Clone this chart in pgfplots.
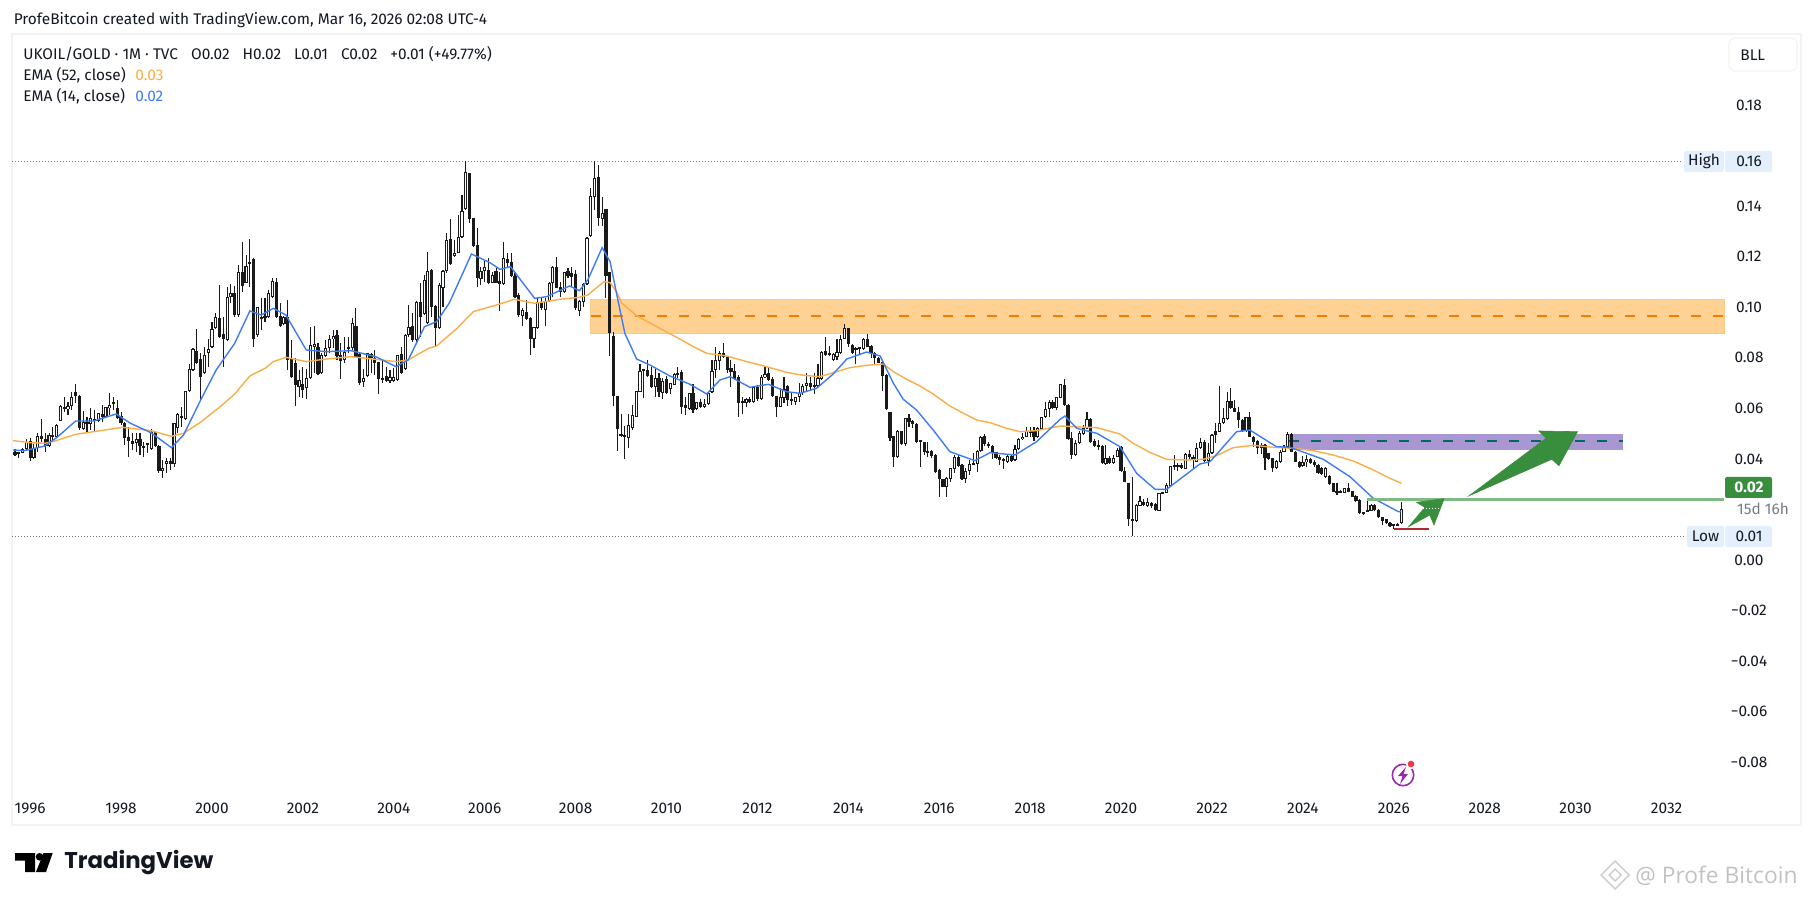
\documentclass[border=0pt]{standalone}
\usepackage{pgfplots}
\usepackage{pgfplotstable}
\usepackage{fontspec}
\pgfplotsset{compat=1.18}
\setmainfont{Fira Sans}
\newfontfamily\logofont{Poppins}
\newfontfamily\wmfont{Open Sans}
\definecolor{candle}{HTML}{1A1A1A}
\definecolor{emaO}{HTML}{FBAE45}
\definecolor{emaB}{HTML}{3F7BF5}
\definecolor{zoneO}{HTML}{FFD294}
\definecolor{zoneOe}{HTML}{F9C98A}
\definecolor{zoneP}{HTML}{A997D3}
\definecolor{dashO}{HTML}{F57C00}
\definecolor{dashT}{HTML}{00695C}
\definecolor{arrowG}{HTML}{388E3C}
\definecolor{lineG}{HTML}{81B985}
\definecolor{lineR}{HTML}{B22833}
\definecolor{dotG}{HTML}{787B86}
\definecolor{badge}{HTML}{E3EFFD}
\definecolor{frame}{HTML}{F3F3F3}
\definecolor{txt}{HTML}{131722}
\definecolor{iconP}{HTML}{9C27B0}
\definecolor{iconR}{HTML}{F23645}
\pgfplotstableread{
k o h l c
0 .0427 .0438 .0412 .0417
1 .0425 .0429 .0402 .0419
2 .0425 .0442 .0422 .0438
3 .0438 .0478 .0435 .0468
4 .0471 .0484 .0393 .0402
5 .0405 .0459 .0398 .0442
6 .0442 .0501 .0429 .0489
7 .0489 .0557 .0468 .0478
8 .0479 .0501 .0429 .0451
9 .0451 .0501 .0448 .0495
10 .0495 .0528 .0475 .0485
11 .0485 .0538 .0481 .0533
12 .0551 .0613 .0551 .0611
13 .0604 .0646 .0587 .0596
14 .0596 .0627 .0574 .0609
15 .0611 .0666 .0594 .0645
16 .0666 .0696 .0620 .0650
17 .0649 .0653 .0514 .0521
18 .0517 .0591 .0514 .0547
19 .0543 .0567 .0504 .0541
20 .0538 .0600 .0514 .0561
21 .0557 .0594 .0508 .0551
22 .0551 .0580 .0547 .0580
23 .0576 .0613 .0547 .0567
24 .0567 .0607 .0561 .0605
25 .0600 .0662 .0574 .0612
26 .0625 .0646 .0594 .0617
27 .0600 .0633 .0557 .0561
28 .0570 .0587 .0534 .0543
29 .0543 .0547 .0455 .0481
30 .0485 .0528 .0409 .0471
31 .0470 .0501 .0435 .0460
32 .0462 .0501 .0429 .0478
33 .0478 .0501 .0416 .0452
34 .0451 .0468 .0409 .0442
35 .0456 .0462 .0425 .0460
36 .0438 .0517 .0435 .0508
37 .0508 .0512 .0446 .0451
38 .0451 .0455 .0346 .0352
39 .0354 .0396 .0326 .0363
40 .0379 .0402 .0343 .0393
41 .0393 .0402 .0356 .0379
42 .0379 .0541 .0369 .0541
43 .0521 .0583 .0501 .0578
44 .0570 .0607 .0528 .0561
45 .0557 .0670 .0554 .0667
46 .0667 .0776 .0666 .0755
47 .0752 .0838 .0749 .0834
48 .0827 .0913 .0776 .0778
49 .0794 .0818 .0633 .0723
50 .0739 .0844 .0736 .0810
51 .0818 .0873 .0765 .0835
52 .0842 .0943 .0838 .0913
53 .0917 .0976 .0913 .0960
54 .0956 .1088 .0877 .0884
55 .0894 .0963 .0765 .0873
56 .0871 .1082 .0868 .1039
57 .1042 .1092 .1016 .1055
58 .1058 .1084 .0963 .0968
59 .0968 .1167 .0963 .1138
60 .1138 .1260 .1062 .1086
61 .1097 .1207 .1095 .1163
62 .1173 .1270 .1082 .1175
63 .1190 .1194 .0842 .0873
64 .0890 .1003 .0884 .1000
65 .0963 .1035 .0910 .0956
66 .0960 .1035 .0943 .0963
67 .0963 .1068 .0956 .1055
68 .1042 .1115 .1035 .1103
69 .1099 .1117 .0956 .0963
70 .0967 .1016 .0923 .0926
71 .0934 .0966 .0930 .0963
72 .0960 .1029 .0752 .0791
73 .0795 .0871 .0719 .0723
74 .0778 .0798 .0611 .0693
75 .0686 .0752 .0646 .0712
76 .0695 .0765 .0640 .0673
77 .0679 .0755 .0636 .0719
78 .0719 .0923 .0715 .0851
79 .0844 .0926 .0739 .0855
80 .0844 .0857 .0732 .0735
81 .0741 .0818 .0736 .0811
82 .0807 .0871 .0805 .0838
83 .0838 .0890 .0818 .0876
84 .0873 .0910 .0838 .0886
85 .0890 .0910 .0791 .0807
86 .0811 .0857 .0718 .0789
87 .0791 .0884 .0781 .0823
88 .0842 .0884 .0818 .0834
89 .0838 .0956 .0831 .0937
90 .0926 .0996 .0798 .0802
91 .0814 .0818 .0693 .0699
92 .0706 .0755 .0686 .0719
93 .0728 .0818 .0726 .0818
94 .0814 .0818 .0739 .0798
95 .0798 .0831 .0732 .0781
96 .0784 .0785 .0657 .0715
97 .0722 .0791 .0699 .0712
98 .0728 .0765 .0706 .0710
99 .0707 .0752 .0699 .0723
100 .0710 .0758 .0706 .0723
101 .0712 .0811 .0710 .0811
102 .0815 .0844 .0736 .0739
103 .0755 .0893 .0752 .0890
104 .0892 .1009 .0884 .0921
105 .0926 .0976 .0864 .0871
106 .0871 .1024 .0864 .1022
107 .1022 .1095 .0884 .0963
108 .0972 .1128 .0970 .1108
109 .0937 .1220 .0934 .1144
110 .1148 .1150 .0963 .1003
111 .1005 .1009 .0844 .0919
112 .0917 .1095 .0913 .1087
113 .1075 .1148 .1003 .1145
114 .1145 .1293 .1137 .1266
115 .1269 .1349 .1167 .1170
116 .1204 .1266 .1200 .1214
117 .1216 .1365 .1214 .1277
118 .1277 .1444 .1273 .1381
119 .1389 .1578 .1385 .1537
120 .1530 .1533 .1332 .1349
121 .1352 .1355 .1240 .1244
122 .1245 .1312 .1079 .1115
123 .1113 .1161 .1088 .1144
124 .1145 .1185 .1101 .1158
125 .1148 .1194 .1092 .1097
126 .1097 .1141 .1095 .1127
127 .1144 .1154 .1095 .1097
128 .1103 .1141 .0985 .1092
129 .1091 .1260 .1088 .1194
130 .1190 .1214 .1154 .1177
131 .1179 .1214 .1121 .1124
132 .1124 .1141 .1035 .1042
133 .1049 .1058 .0963 .0970
134 .0967 .0996 .0926 .0989
135 .0981 .1029 .0950 .0952
136 .0959 .0963 .0811 .0875
137 .0873 .0923 .0838 .0921
138 .0917 .1035 .0913 .1022
139 .1021 .1035 .0989 .0996
140 .0989 .1035 .0926 .1026
141 .1025 .1101 .1022 .1097
142 .1095 .1163 .1042 .1161
143 .1158 .1198 .1075 .1078
144 .1082 .1101 .1042 .1061
145 .1061 .1141 .1058 .1138
146 .1142 .1154 .1115 .1124
147 .1134 .1158 .1082 .1121
148 .1130 .1148 .0989 .0996
149 .0987 .1029 .0966 .1024
150 .1021 .1095 .1003 .1092
151 .1092 .1280 .1088 .1273
152 .1282 .1471 .1280 .1440
153 .1435 .1578 .1385 .1510
154 .1514 .1563 .1322 .1355
155 .1348 .1438 .1322 .1375
156 .1388 .1388 .1035 .1124
157 .1138 .1141 .0807 .0900
158 .0886 .0904 .0611 .0649
159 .0649 .0649 .0431 .0517
160 .0491 .0578 .0488 .0495
161 .0491 .0530 .0400 .0493
162 .0481 .0578 .0442 .0533
163 .0524 .0613 .0514 .0572
164 .0567 .0670 .0565 .0667
165 .0666 .0776 .0665 .0748
166 .0752 .0755 .0642 .0755
167 .0752 .0791 .0726 .0729
168 .0732 .0765 .0679 .0683
169 .0683 .0755 .0644 .0719
170 .0720 .0739 .0644 .0664
171 .0662 .0719 .0636 .0707
172 .0716 .0728 .0657 .0660
173 .0675 .0702 .0657 .0699
174 .0693 .0739 .0693 .0735
175 .0739 .0765 .0719 .0731
176 .0743 .0752 .0576 .0607
177 .0613 .0646 .0574 .0600
178 .0596 .0660 .0594 .0660
179 .0660 .0696 .0583 .0594
180 .0596 .0627 .0594 .0624
181 .0624 .0637 .0600 .0607
182 .0607 .0636 .0603 .0616
183 .0617 .0666 .0613 .0660
184 .0665 .0791 .0662 .0749
185 .0752 .0842 .0719 .0791
186 .0789 .0828 .0752 .0818
187 .0818 .0857 .0798 .0802
188 .0805 .0807 .0739 .0752
189 .0758 .0791 .0686 .0743
190 .0747 .0776 .0712 .0715
191 .0723 .0732 .0567 .0623
192 .0628 .0644 .0578 .0625
193 .0623 .0640 .0607 .0636
194 .0636 .0646 .0623 .0627
195 .0627 .0686 .0623 .0683
196 .0686 .0693 .0631 .0636
197 .0636 .0732 .0633 .0723
198 .0723 .0762 .0719 .0736
199 .0739 .0758 .0710 .0712
200 .0716 .0723 .0646 .0649
201 .0649 .0649 .0567 .0607
202 .0607 .0679 .0604 .0644
203 .0642 .0723 .0620 .0675
204 .0690 .0693 .0611 .0633
205 .0633 .0666 .0613 .0631
206 .0627 .0646 .0615 .0644
207 .0644 .0699 .0627 .0662
208 .0660 .0695 .0653 .0690
209 .0690 .0739 .0666 .0699
210 .0699 .0723 .0670 .0686
211 .0689 .0739 .0657 .0686
212 .0689 .0776 .0686 .0719
213 .0715 .0828 .0712 .0823
214 .0827 .0884 .0807 .0811
215 .0815 .0847 .0807 .0813
216 .0791 .0818 .0789 .0814
217 .0805 .0876 .0791 .0822
218 .0818 .0890 .0815 .0876
219 .0875 .0934 .0873 .0917
220 .0917 .0919 .0844 .0855
221 .0851 .0855 .0815 .0818
222 .0838 .0844 .0776 .0835
223 .0839 .0844 .0811 .0836
224 .0834 .0877 .0831 .0875
225 .0875 .0894 .0842 .0844
226 .0847 .0849 .0798 .0820
227 .0820 .0823 .0776 .0798
228 .0801 .0805 .0778 .0781
229 .0782 .0785 .0670 .0729
230 .0732 .0735 .0594 .0596
231 .0584 .0587 .0472 .0481
232 .0489 .0492 .0369 .0406
233 .0406 .0514 .0402 .0510
234 .0510 .0512 .0455 .0459
235 .0459 .0563 .0452 .0561
236 .0561 .0578 .0528 .0547
237 .0551 .0554 .0521 .0537
238 .0537 .0541 .0464 .0468
239 .0472 .0475 .0369 .0466
240 .0467 .0468 .0416 .0429
241 .0430 .0468 .0409 .0425
242 .0431 .0435 .0402 .0412
243 .0416 .0418 .0343 .0350
244 .0356 .0359 .0251 .0319
245 .0319 .0322 .0288 .0290
246 .0290 .0327 .0248 .0325
247 .0322 .0365 .0310 .0363
248 .0361 .0416 .0346 .0406
249 .0409 .0416 .0369 .0372
250 .0376 .0379 .0317 .0319
251 .0319 .0363 .0306 .0354
252 .0354 .0396 .0336 .0380
253 .0380 .0422 .0379 .0383
254 .0379 .0435 .0350 .0433
255 .0433 .0491 .0429 .0488
256 .0491 .0499 .0451 .0458
257 .0459 .0468 .0442 .0451
258 .0451 .0455 .0398 .0422
259 .0426 .0429 .0398 .0402
260 .0406 .0416 .0376 .0396
261 .0398 .0402 .0359 .0392
262 .0389 .0416 .0385 .0412
263 .0412 .0416 .0389 .0393
264 .0396 .0455 .0393 .0441
265 .0438 .0481 .0435 .0478
266 .0478 .0501 .0475 .0488
267 .0488 .0525 .0485 .0509
268 .0509 .0525 .0488 .0507
269 .0510 .0528 .0471 .0488
270 .0488 .0525 .0484 .0521
271 .0520 .0567 .0517 .0565
272 .0565 .0627 .0561 .0596
273 .0596 .0633 .0567 .0627
274 .0624 .0633 .0596 .0600
275 .0603 .0646 .0594 .0644
276 .0642 .0696 .0640 .0696
277 .0693 .0715 .0611 .0613
278 .0613 .0616 .0475 .0479
279 .0481 .0508 .0398 .0416
280 .0416 .0475 .0412 .0462
281 .0462 .0510 .0459 .0501
282 .0499 .0534 .0495 .0521
283 .0521 .0587 .0518 .0557
284 .0557 .0561 .0464 .0468
285 .0471 .0478 .0446 .0451
286 .0455 .0475 .0435 .0451
287 .0451 .0454 .0380 .0383
288 .0380 .0455 .0377 .0402
289 .0405 .0412 .0380 .0383
290 .0383 .0416 .0380 .0405
291 .0409 .0442 .0406 .0435
292 .0449 .0451 .0350 .0354
293 .0352 .0367 .0307 .0310
294 .0303 .0306 .0136 .0161
295 .0161 .0330 .0095 .0156
296 .0154 .0220 .0152 .0216
297 .0215 .0253 .0214 .0233
298 .0231 .0240 .0214 .0216
299 .0215 .0244 .0211 .0228
300 .0227 .0231 .0204 .0214
301 .0222 .0227 .0194 .0198
302 .0195 .0266 .0193 .0264
303 .0268 .0270 .0261 .0262
304 .0266 .0303 .0264 .0295
305 .0294 .0373 .0293 .0372
306 .0369 .0416 .0356 .0375
307 .0375 .0383 .0352 .0369
308 .0375 .0383 .0360 .0363
309 .0361 .0425 .0359 .0418
310 .0418 .0435 .0396 .0409
311 .0409 .0416 .0359 .0396
312 .0389 .0462 .0386 .0442
313 .0443 .0481 .0441 .0466
314 .0468 .0475 .0389 .0393
315 .0392 .0462 .0372 .0422
316 .0422 .0499 .0419 .0493
317 .0510 .0541 .0462 .0495
318 .0508 .0689 .0505 .0541
319 .0541 .0600 .0538 .0561
320 .0557 .0664 .0554 .0631
321 .0631 .0679 .0596 .0600
322 .0603 .0633 .0584 .0587
323 .0587 .0607 .0521 .0554
324 .0554 .0557 .0507 .0510
325 .0510 .0567 .0508 .0565
326 .0565 .0587 .0485 .0488
327 .0488 .0491 .0446 .0468
328 .0471 .0475 .0419 .0442
329 .0455 .0462 .0418 .0442
330 .0455 .0458 .0356 .0402
331 .0422 .0425 .0396 .0400
332 .0402 .0405 .0350 .0363
333 .0363 .0396 .0359 .0392
334 .0386 .0435 .0384 .0429
335 .0429 .0455 .0426 .0449
336 .0446 .0508 .0442 .0499
337 .0499 .0504 .0426 .0429
338 .0429 .0431 .0386 .0389
339 .0389 .0392 .0365 .0367
340 .0372 .0412 .0369 .0389
341 .0389 .0416 .0367 .0398
342 .0398 .0405 .0380 .0383
343 .0386 .0396 .0369 .0375
344 .0376 .0379 .0340 .0343
345 .0363 .0369 .0336 .0340
346 .0330 .0367 .0326 .0363
347 .0332 .0335 .0298 .0301
348 .0303 .0306 .0268 .0270
349 .0269 .0303 .0257 .0272
350 .0269 .0277 .0265 .0266
351 .0266 .0286 .0264 .0284
352 .0284 .0303 .0268 .0270
353 .0272 .0274 .0248 .0251
354 .0253 .0256 .0231 .0235
355 .0237 .0240 .0182 .0185
356 .0189 .0191 .0179 .0186
357 .0197 .0237 .0191 .0194
358 .0195 .0220 .0193 .0218
359 .0218 .0220 .0195 .0198
360 .0198 .0200 .0168 .0169
361 .0169 .0171 .0139 .0156
362 .0161 .0164 .0142 .0145
363 .0145 .0150 .0132 .0136
364 .0140 .0142 .0121 .0137
365 .0137 .0145 .0136 .0140
366 .0148 .0231 .0142 .0202
}\candles
\begin{document}
\begin{tikzpicture}
\begin{axis}[
  scale only axis, width=894.5pt, height=395.5pt,
  xmin=-0.792, xmax=471.5, ymin=-0.10487, ymax=0.20815,
  clip=false,
  axis line style={draw=frame, line width=1.1pt},
  tick style={draw=none},
  xtick={4,28,52,76,100,124,148,172,196,220,244,268,292,316,340,364,388,412,436},
  xticklabels={1996,1998,2000,2002,2004,2006,2008,2010,2012,2014,2016,2018,2020,2022,2024,2026,2028,2030,2032},
  ytick={-0.08,-0.06,-0.04,-0.02,0,0.04,0.06,0.08,0.10,0.12,0.14,0.18},
  yticklabels={−0.08,−0.06,−0.04,−0.02,0.00,0.04,0.06,0.08,0.10,0.12,0.14,0.18},
  yticklabel pos=right,
  xticklabel style={anchor=center, yshift=8.5pt, font=\fontsize{7.7pt}{9pt}\selectfont, text=txt},
  yticklabel style={anchor=center, xshift=-26pt, font=\fontsize{7.7pt}{9pt}\selectfont, text=txt},
  wick/.style={draw=none, mark=none, forget plot,
    error bars/.cd, y dir=both, y explicit, error mark=none,
    error bar style={draw=candle, line width=0.55pt}},
  body/.style={draw=none, mark=none, forget plot,
    error bars/.cd, y dir=both, y explicit, error mark=none,
    error bar style={draw=candle, line width=1.6pt}},
  hollow/.style={draw=none, mark=none, forget plot, restrict x to domain=-5:500,
    error bars/.cd, y dir=both, y explicit, error mark=none,
    error bar style={draw=white, line width=0.55pt}},
]
% zones
\addplot[fill=zoneO, draw=zoneOe, line width=.5pt, forget plot] coordinates {(152.06,.1032) (451.2,.1032) (451.2,.08955) (152.06,.08955)} -- cycle;
\addplot[fill=zoneP, draw=none, forget plot] coordinates {(336.3,.04986) (424.5,.04986) (424.5,.04365) (336.3,.04365)} -- cycle;
\addplot[dashO, line width=1pt, dash pattern=on 5pt off 6pt, forget plot] coordinates {(152.06,.0967) (451.2,.0967)};
\addplot[dashT, line width=1pt, dash pattern=on 5pt off 6pt, forget plot] coordinates {(336.3,.0471) (424.5,.0471)};
% high / low
\addplot[dotG, line width=.5pt, dash pattern=on .5pt off 1pt, forget plot] coordinates {(-0.792,.1578) (440,.1578)};
\addplot[dotG, line width=.5pt, dash pattern=on .5pt off 1pt, forget plot] coordinates {(-0.792,.0094) (440.8,.0094)};
% candles
\addplot[wick] table[x=k, y expr={(\thisrow{h}+\thisrow{l})/2}, y error expr={(\thisrow{h}-\thisrow{l})/2}] {\candles};
\addplot[body] table[x=k, y expr={(\thisrow{o}+\thisrow{c})/2}, y error expr={max(abs(\thisrow{c}-\thisrow{o})/2,0.0004)}] {\candles};
\addplot[hollow] table[x expr={\thisrow{c}>\thisrow{o} ? \thisrow{k} : -100}, y expr={(\thisrow{o}+\thisrow{c})/2}, y error expr={max(abs(\thisrow{c}-\thisrow{o})/2-0.0004,0)}] {\candles};
% EMA 52
\addplot[emaO, line width=.7pt, forget plot] coordinates {
(-0.5,.04722)(4.1,.04643)(7.9,.04617)(10.6,.04709)(16,.04973)(20.8,.05079)(28.4,.0525)(35.9,.05118)(41.3,.04894)(44.5,.05013)(48.8,.05435)(54.2,.06068)(58,.06569)(62,.07281)(66,.07585)(68.2,.07849)(71.5,.0802)(76.9,.07849)(82.2,.07954)(88.7,.08046)(95.2,.07941)(100.6,.07849)(103.8,.07914)(109.2,.08376)(111.3,.08469)(116.7,.09168)(121,.09827)(128,.10131)(131.8,.10315)(137.2,.10157)(143.7,.10315)(149,.10394)(151.2,.10487)(155.5,.11014)(157.1,.10975)(158.8,.10619)(160.2,.10157)(164.1,.09669)(169.4,.09234)(174.7,.08811)(179.1,.08442)(182.6,.08178)(187.9,.08073)(193.2,.07849)(198.4,.07651)(203.7,.07426)(208.1,.07308)(212.5,.07255)(216.9,.07453)(220.4,.07611)(224.8,.07703)(229.2,.07756)(231.9,.07453)(235.4,.07149)(238.9,.06886)(242.4,.06569)(246.8,.06094)(250.4,.05804)(253.9,.0554)(257.4,.05435)(261.8,.0521)(265.3,.05079)(269.7,.05118)(275.9,.05303)(279.4,.05276)(285.6,.05237)(291.7,.04986)(295.2,.04617)(299.6,.04261)(304,.03984)(309.3,.03957)(313.7,.03984)(317.2,.04129)(321.6,.04445)(326.9,.04538)(332.2,.04459)(337.5,.04419)(342.8,.04327)(348,.04155)(353.3,.03918)(358.6,.03562)(363,.03232)(366,.03034)};
% EMA 14
\addplot[emaB, line width=.7pt, forget plot] coordinates {
(-0.5,.04353)(2.5,.04327)(7.9,.04511)(11.1,.04854)(16,.055)(20.8,.055)(26.7,.05778)(30.5,.05408)(35.9,.05039)(41.3,.04445)(44.5,.04947)(48.8,.06266)(53.1,.07519)(58,.08574)(62,.09854)(65,.09695)(68.2,.09959)(71.5,.09695)(76.9,.0831)(82.2,.08244)(88.7,.08284)(95.2,.08046)(100.6,.07651)(103.8,.07914)(108.1,.09234)(111.3,.09431)(114.6,.10157)(117.8,.11212)(120.5,.12109)(125.4,.11766)(128,.11502)(130.8,.11608)(134.5,.10882)(137.2,.10355)(140.4,.10421)(146.4,.10843)(149,.10658)(151.2,.1108)(155,.1236)(157.1,.11806)(158.8,.10553)(161,.0897)(164.1,.07954)(167.6,.07717)(172.9,.07281)(178.2,.06952)(182.6,.06569)(186.1,.07123)(188.8,.07255)(194,.06833)(198.9,.06952)(203.7,.06661)(207.2,.06595)(211.6,.06793)(216,.07361)(219.6,.07954)(224.8,.08231)(228.4,.08073)(231.9,.06991)(234.5,.06358)(238,.05936)(242.4,.05144)(246.8,.04287)(253.4,.03931)(257.4,.04247)(264,.04155)(269.7,.04683)(275.9,.05567)(277.2,.05698)(280.3,.0521)(285.6,.05013)(291.7,.04485)(296.1,.0343)(301,.02796)(304,.02796)(312.8,.03799)(315.5,.03891)(322.5,.05079)(326,.05144)(333,.04485)(336.6,.04459)(345.4,.03984)(352.4,.03298)(358.6,.0244)(365.2,.01913)(366,.01913)};
% drawings
\addplot[lineG, line width=1.35pt, forget plot] coordinates {(356.9,.0240) (451.2,.0240)};
\addplot[lineR, line width=1pt, forget plot] coordinates {(364,.01227) (373.3,.01227)};
\addplot[fill=arrowG, draw=arrowG, line width=.3pt, forget plot] coordinates {(367.9,.01318)(372.2,.02085)(370,.02283)(377.3,.02426)(374.6,.01385)(373.5,.01781)} -- cycle;
\addplot[fill=arrowG, draw=arrowG, line width=.3pt, forget plot] coordinates {(383.9,.02544)(404.2,.04816)(402.3,.05105)(412.5,.05077)(407.6,.03732)(405.7,.03985)} -- cycle;
\addplot[white, line width=.5pt, dash pattern=on .5pt off 1pt, forget plot] coordinates {(370.9,.0205)(376.2,.0205)};
\end{axis}
\begin{scope}[x=0.5pt,y=-0.5pt,shift={(-6pt,412.5pt)}]
\path (0,0) rectangle (1814,900);
\tikzset{lab/.style={inner sep=0pt, font=\fontsize{7.7pt}{9pt}\selectfont, text=txt}}
\node[lab, anchor=west] at (13.4,20) {ProfeBitcoin created with TradingView.com, Mar 16, 2026 02:08 UTC-4};
\node[lab, anchor=west] at (23,54) {UKOIL/GOLD · 1M · TVC\hspace{6.5pt}O0.02\hspace{6.5pt}H0.02\hspace{6.5pt}L0.01\hspace{6.5pt}C0.02\hspace{6.5pt}+0.01 (+49.77\%)};
\node[lab, anchor=west] at (23,75) {EMA (52, close)};
\node[lab, anchor=west, text=emaO] at (135,75) {0.03};
\node[lab, anchor=west] at (23,96) {EMA (14, close)};
\node[lab, anchor=west, text=emaB] at (135,96) {0.02};
\draw[frame, line width=.6pt, rounded corners=3pt, fill=white] (1729,38) rectangle (1797,71);
\node[lab, anchor=west] at (1740,55) {BLL};
% High badge
\fill[badge, rounded corners=1pt] (1684,151) rectangle (1724,172);
\fill[badge, rounded corners=1pt] (1725,151) rectangle (1772,172);
\node[lab] at (1704,161.5) {High};
\node[lab] at (1749,161.5) {0.16};
% Low badge
\fill[badge, rounded corners=1pt] (1687,526) rectangle (1724,547);
\fill[badge, rounded corners=1pt] (1725,526) rectangle (1772,547);
\node[lab] at (1705.5,536.5) {Low};
\node[lab] at (1749,536.5) {0.01};
% Last price
\fill[arrowG, rounded corners=1pt] (1725,477) rectangle (1772,498);
\node[lab, text=white, font=\fontsize{7.7pt}{9pt}\selectfont\bfseries] at (1749,487.5) {0.02};
\node[lab, text=dotG] at (1763,509) {15d 16h};
% bolt icon
\draw[iconP, line width=.8pt] (1403,775) circle [radius=5.35pt];
\fill[iconP] (1406,767) -- (1398,776) -- (1402.5,776) -- (1400,784) -- (1408,774) -- (1403.5,774) -- cycle;
\fill[white] (1411,764) circle [radius=2.6pt];
\fill[iconR] (1411,764) circle [radius=1.65pt];
% TradingView logo
\fill[black] (15,853) -- (35,853) -- (35,872) -- (25,872) -- (25,860.5) -- (15,860.5) -- cycle;
\fill[black] (39.5,856.8) circle [radius=1.9pt];
\fill[black] (43.5,853) -- (52.7,853) -- (46,872) -- (36,872) -- cycle;
\node[inner sep=0pt, anchor=west, font=\logofont\fontsize{11.4pt}{14pt}\selectfont\bfseries, text=txt] at (64,862) {TradingView};
% watermark
\draw[black!20, line width=.7pt] (1615,861) -- (1629,875) -- (1615,889) -- (1601,875) -- cycle;
\draw[black!20, line width=.7pt] (1615,869) -- (1621,875) -- (1615,881) -- (1609,875) -- cycle;
\node[inner sep=0pt, anchor=west, font=\wmfont\fontsize{11.4pt}{13pt}\selectfont, text=black!24] at (1635,876) {@ Profe Bitcoin};
\end{scope}
\end{tikzpicture}
\end{document}
